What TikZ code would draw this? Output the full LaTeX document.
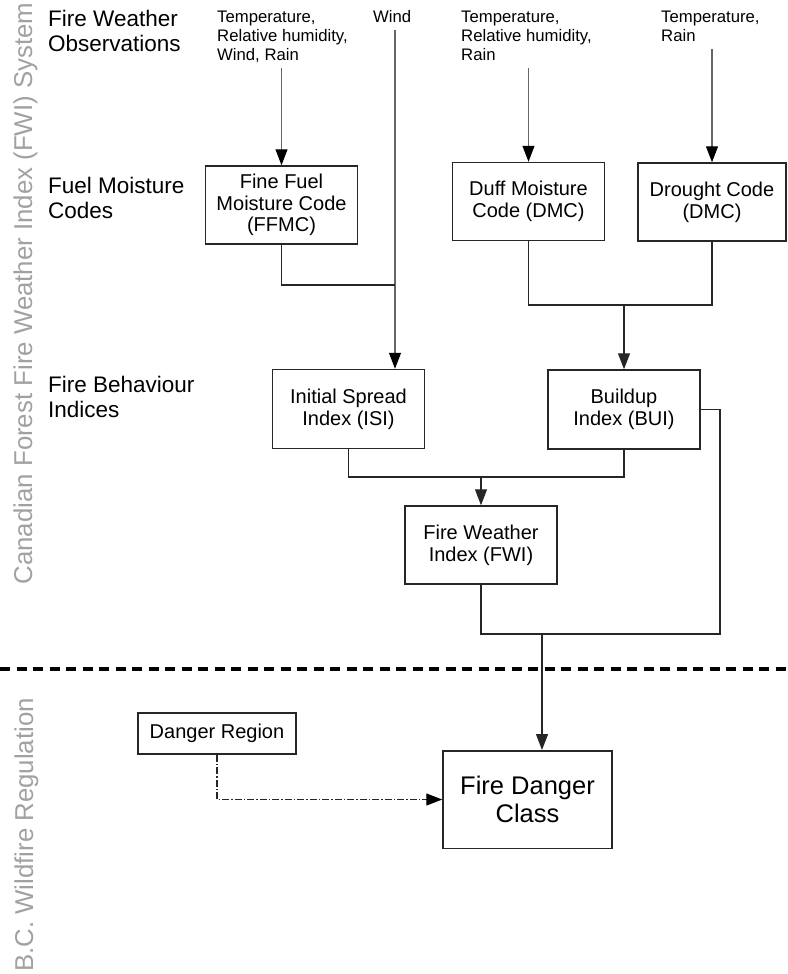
\documentclass[tikz,border=0pt]{standalone}
\usepackage{fontspec}
\setmainfont{Liberation Sans}
\usetikzlibrary{arrows.meta}
\newcommand{\boxfont}{\fontsize{20}{21.7}\selectfont}
\newcommand{\labfont}{\fontsize{22.5}{25}\selectfont}
\newcommand{\obsfont}{\fontsize{16.7}{19}\selectfont}
\newcommand{\sidefont}{\fontsize{25.8}{30}\selectfont}
\newcommand{\classfont}{\fontsize{25.5}{28.7}\selectfont}
\tikzset{
	box/.style={draw=black!85,line width=1.5pt,align=center,inner sep=0pt,minimum width=152pt,minimum height=78pt,font=\boxfont},
	lab/.style={anchor=north west,align=left,inner sep=0pt,font=\labfont},
	obs/.style={anchor=north west,align=left,inner sep=0pt,font=\obsfont},
	side/.style={rotate=90,anchor=base,inner sep=0pt,text=black!37,font=\sidefont},
	link/.style={line width=1.3pt,black!85},
	arr/.style={link,-{Triangle[length=16pt,width=12pt]}},
	feed/.style={line width=1.1pt,black!60,-{Triangle[length=16pt,width=12pt,black]}},
	dashdot/.style={line width=1.1pt,black!85,dash pattern=on 7pt off 2pt on 1.5pt off 2pt,-{Triangle[length=16pt,width=12pt,black]}},
}
\begin{document}
\begin{tikzpicture}[x=1pt,y=-1pt]
		\useasboundingbox (0,0) rectangle (787,974);
		% row labels
		\node[side] (fwisys) at (32,293.5) {Canadian Forest Fire Weather Index (FWI) System};
		\node[side] (bcreg) at (33,835) {B.C. Wildfire Regulation};
		\node[lab] (lobs) at (48,10) {Fire Weather\\Observations};
		\node[lab] (lcodes) at (48,177) {Fuel Moisture\\Codes};
		\node[lab] (lind) at (48,376) {Fire Behaviour\\Indices};
		
		% weather inputs
		\node[obs] (in1) at (217,10.5) {Temperature,\\Relative humidity,\\Wind, Rain};
		\node[obs] (in2) at (373,10.5) {Wind};
		\node[obs] (in3) at (461,10.5) {Temperature,\\Relative humidity,\\Rain};
		\node[obs] (in4) at (661,10.5) {Temperature,\\Rain};
		
		% boxes
		\node[box] (ffmc) at (281.5,205) {Fine Fuel\\Moisture Code\\(FFMC)};
		\node[box] (dmc) at (528.5,201.5) {Duff Moisture\\Code (DMC)};
		\node[box,minimum width=148pt] (dc) at (712,202) {Drought Code\\(DMC)};
		\node[box,minimum height=79pt] (isi) at (348.5,409) {Initial Spread\\Index (ISI)};
		\node[box,minimum height=79pt] (bui) at (624,409.5) {Buildup\\Index (BUI)};
		\node[box] (fwi) at (481,545) {Fire Weather\\Index (FWI)};
		\node[box,minimum width=158pt,minimum height=41pt] (dr) at (217,733.5) {Danger Region};
		\node[box,font=\classfont,minimum width=169pt,minimum height=97.5pt] (fdc) at (527.5,799.5) {Fire Danger\\Class};
		
		\coordinate (t1) at (281.5,68);
		\coordinate (t2) at (395,30);
		\coordinate (t3) at (528.5,68);
		\coordinate (t4) at (712,49);
		\coordinate (j1) at (395,285);
		\coordinate (j2) at (624,305);
		\coordinate (j3) at (481,477);
		\coordinate (j4) at (542,634);
		\coordinate (c4) at (720,634);
		
		\draw[feed] (t1) -- (ffmc.north);
		\draw[feed] (t2) -- (t2 |- isi.north);
		\draw[feed] (t3) -- (dmc.north);
		\draw[feed] (t4) -- (dc.north);
		\draw[link] (ffmc.south) |- (j1);
		\draw[link] (dmc.south) |- (j2);
		\draw[link] (dc.south) |- (j2);
		\draw[arr] (j2) -- (bui.north);
		\draw[link] (isi.south) |- (j3);
		\draw[link] (bui.south) |- (j3);
		\draw[arr] (j3) -- (fwi.north);
		\draw[link] (fwi.south) |- (j4);
		\draw[link] (bui.east) -| (c4) -- (j4);
		\draw[arr] (j4) -- (j4 |- fdc.north);
		\draw[dashdot] (dr.south) |- (fdc.west);
		
		% split between FWI system and regulation
		\draw[line width=3.5pt,dash pattern=on 10pt off 6.5pt] (0,669) -- (787,669);
\end{tikzpicture}
\end{document}
